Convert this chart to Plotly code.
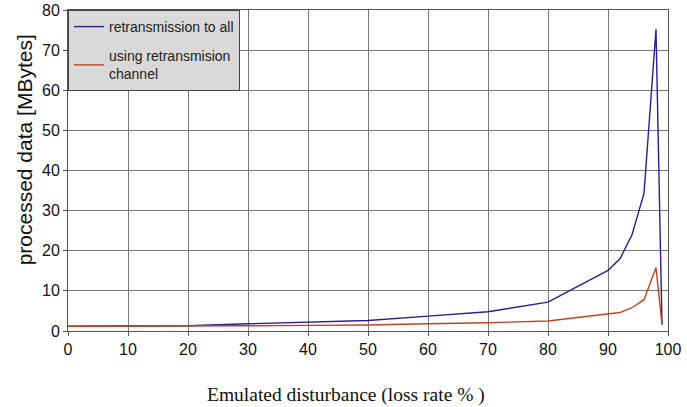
import plotly.graph_objects as go

loss_rate = [0, 10, 20, 30, 40, 50, 60, 70, 80, 90, 92, 94, 96, 98, 99]
retransmission_to_all = [1.2, 1.2, 1.3, 1.8, 2.2, 2.6, 3.7, 4.8, 7.2, 15.1, 18.0, 24.0, 34.3, 75.2, 1.6]
using_retransmission_channel = [1.2, 1.2, 1.2, 1.3, 1.4, 1.5, 1.8, 2.05, 2.5, 4.1, 4.6, 5.8, 7.8, 15.8, 1.6]

x_ticks = [0, 10, 20, 30, 40, 50, 60, 70, 80, 90, 100]
y_ticks = [0, 10, 20, 30, 40, 50, 60, 70, 80]

x_title = "Emulated disturbance (loss rate % )"
y_title = "processed data [MBytes]"

fig = go.Figure()
fig.add_trace(go.Scatter(
    x=loss_rate, y=retransmission_to_all, mode="lines",
    name="retransmission to all", legendgroup="a",
    line=dict(color="#2b1c8f", width=1.4),
))
fig.add_trace(go.Scatter(
    x=loss_rate, y=using_retransmission_channel, mode="lines",
    name="using retransmision<br>channel", legendgroup="b",
    line=dict(color="#c2441e", width=1.4),
))

fig.update_layout(
    width=687, height=407,
    margin=dict(l=68, r=19, t=10, b=76),
    paper_bgcolor="white", plot_bgcolor="white",
    font=dict(family="Liberation Sans, Arial, sans-serif", color="#111", size=16),
    showlegend=True,
    legend=dict(
        x=0, y=1, xanchor="left", yanchor="top",
        bgcolor="#d9d9d9", bordercolor="#444", borderwidth=1,
        font=dict(family="Liberation Sans, Arial, sans-serif", size=14, color="#222"),
        itemwidth=30, tracegroupgap=8,
    ),
    xaxis=dict(
        range=[0, 100], tickmode="array", tickvals=x_ticks,
        showgrid=True, gridcolor="#7a7a7a", gridwidth=1,
        showline=True, linecolor="#555", linewidth=1, mirror=True,
        ticks="outside", ticklen=4, tickcolor="#555",
        zeroline=False, automargin=False,
    ),
    yaxis=dict(
        range=[0, 80], tickmode="array", tickvals=y_ticks,
        showgrid=True, gridcolor="#7a7a7a", gridwidth=1,
        showline=True, linecolor="#555", linewidth=1, mirror=True,
        ticks="outside", ticklen=4, tickcolor="#555",
        zeroline=False, automargin=False,
    ),
    annotations=[
        dict(text=x_title, xref="paper", yref="paper", x=0.463, y=-0.199,
             xanchor="center", yanchor="middle", showarrow=False,
             font=dict(family="Liberation Serif, Times New Roman, serif", size=19.5, color="#111")),
        dict(text=y_title, xref="paper", yref="paper", x=-0.071, y=0.564,
             xanchor="center", yanchor="middle", showarrow=False, textangle=-90,
             font=dict(family="Liberation Sans, Arial, sans-serif", size=21, color="#111")),
    ],
)

fig.write_html("out.html", config={"displayModeBar": False},
               post_script="document.body.style.margin='0';")
